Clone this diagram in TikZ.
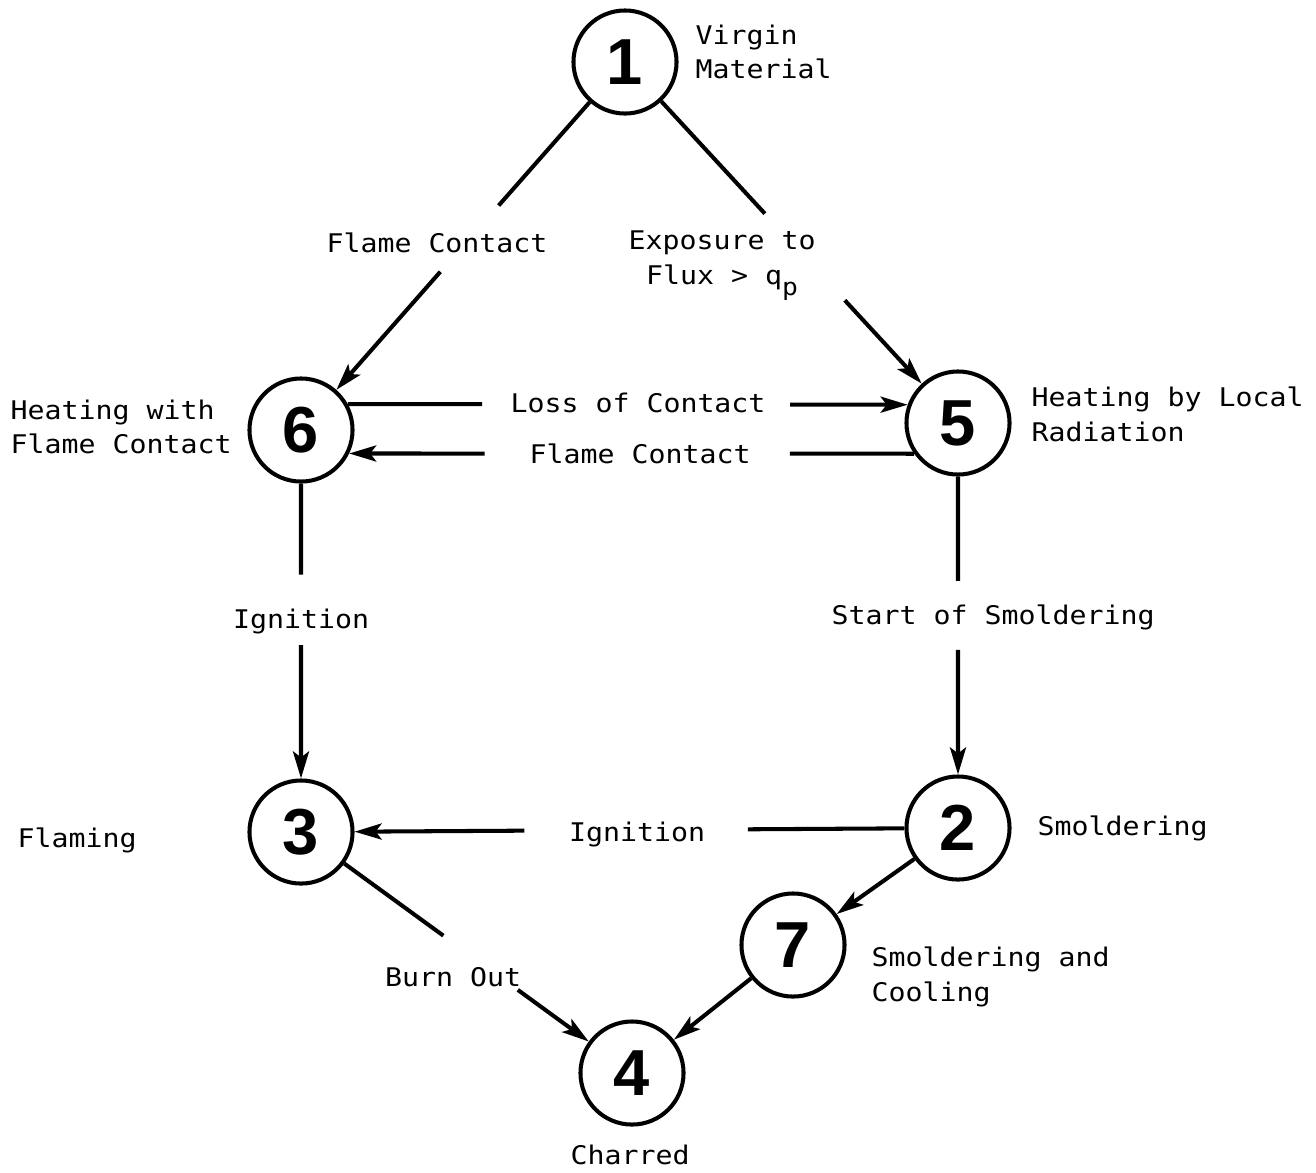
\documentclass[tikz,border=0pt]{standalone}
\usepackage{fontspec}
\newfontfamily\labelfont[FakeStretch=1.1]{DejaVu Sans Mono}
\newfontfamily\numfont{Liberation Sans}
\usepackage{tikz}
\usetikzlibrary{arrows.meta,    % arrow tips
                calc}           % gaps in the edges

\tikzset{
  state/.style={circle, draw, line width=1.15pt, minimum size=1.03cm, inner sep=0pt,
                font=\numfont\fontsize{18.5}{18.5}\bfseries\selectfont},
  txt/.style={inner sep=0pt, font=\labelfont\fontsize{7.3}{9.9}\selectfont},
  edge/.style={line width=1.15pt},
}

\begin{document}
\begin{tikzpicture}[x=0.01cm, y=-0.01cm,
                    >={Stealth[length=0.27cm, width=0.16cm, inset=0.06cm]}]
        \useasboundingbox (0,0) rectangle (1316,1172);

        % states
        \node[state] (s1) at (625,62)   {1};
        \node[state] (s6) at (301,430)  {6};
        \node[state] (s5) at (958,423)  {5};
        \node[state] (s3) at (301,832)  {3};
        \node[state] (s2) at (958,828)  {2};
        \node[state] (s7) at (793,945)  {7};
        \node[state] (s4) at (632,1073) {4};

        % state names
        \node[txt, anchor=west, align=left] (virgin) at (695,52)   {Virgin\\Material};
        \node[txt, anchor=west, align=left] (heat6)  at (10,427)   {Heating with\\Flame Contact};
        \node[txt, anchor=west, align=left] (heat5)  at (1031,414) {Heating by Local\\Radiation};
        \node[txt, anchor=west]             (flame)  at (17,840)   {Flaming};
        \node[txt, anchor=west]             (smold)  at (1037,828) {Smoldering};
        \node[txt, anchor=west, align=left] (cool)   at (871,977)  {Smoldering and\\Cooling};
        \node[txt]                          (charred) at (630,1155) {Charred};

        % transition labels
        \node[txt] (fc1) at (437,243) {Flame Contact};
        \node[txt, align=center] (expo) at (722,266)
                {Exposure to\\Flux > q\raisebox{-3.2pt}{\fontsize{6.8}{6.8}\selectfont p}};
        \node[txt] (loss)  at (638,403) {Loss of Contact};
        \node[txt] (fc2)   at (640,454) {Flame Contact};
        \node[txt] (ign1)  at (301,621) {Ignition};
        \node[txt] (start) at (993,617) {Start of Smoldering};
        \node[txt] (ign2)  at (637,834) {Ignition};
        \node[txt] (burn)  at (453,977) {Burn Out};

        % edges, broken where the label sits
        \draw[edge] (s1) -- ($(s1)!0.39!(s6)$);
        \draw[edge, ->] ($(s1)!0.57!(s6)$) -- (s6);
        \draw[edge] (s1) -- ($(s1)!0.42!(s5)$);
        \draw[edge, ->] ($(s1)!0.66!(s5)$) -- (s5);

        \draw[edge] (s6.29) -- ($(s6.29)!0.24!(s5.160)$);
        \draw[edge, ->] ($(s6.29)!0.79!(s5.160)$) -- (s5.160);
        \draw[edge] (s5.215) -- ($(s5.215)!0.22!(s6.334)$);
        \draw[edge, ->] ($(s5.215)!0.76!(s6.334)$) -- (s6.334);

        \draw[edge] (s6) -- ($(s6)!0.36!(s3)$);
        \draw[edge, ->] ($(s6)!0.535!(s3)$) -- (s3);
        \draw[edge] (s5) -- ($(s5)!0.39!(s2)$);
        \draw[edge, ->] ($(s5)!0.56!(s2)$) -- (s2);

        \draw[edge] (s2) -- ($(s2)!0.32!(s3)$);
        \draw[edge, ->] ($(s2)!0.66!(s3)$) -- (s3);
        \draw[edge] (s3) -- ($(s3)!0.43!(s4)$);
        \draw[edge, ->] ($(s3)!0.655!(s4)$) -- (s4);

        \draw[edge, ->] (s2) -- (s7);
        \draw[edge, ->] (s7) -- (s4);

    \end{tikzpicture}
\end{document}
